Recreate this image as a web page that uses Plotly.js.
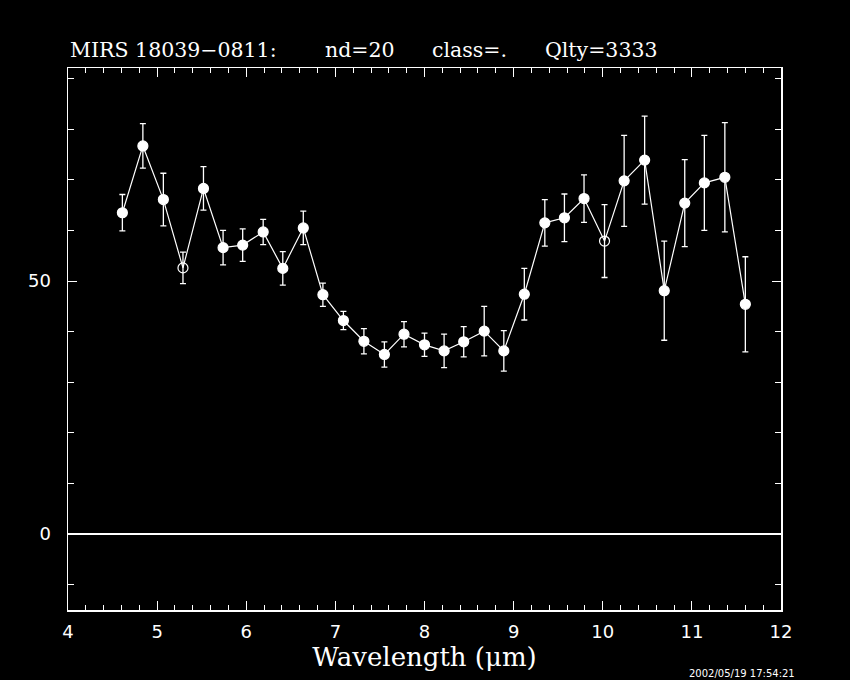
<!DOCTYPE html>
<html>
<head>
<meta charset="utf-8">
<script src="https://cdn.plot.ly/plotly-3.0.1.min.js"></script>
<style>html,body{margin:0;padding:0;background:#000;}#chart{width:850px;height:680px;}</style>
</head>
<body>
<div id="chart"></div>
<script>
const wavelength = [4.61,4.84,5.07,5.29,5.52,5.74,5.96,6.19,6.41,6.64,6.86,7.09,7.32,7.55,7.77,8.00,8.22,8.44,8.67,8.89,9.12,9.35,9.57,9.79,10.02,10.24,10.47,10.69,10.92,11.14,11.37,11.60];
const flux = [63.5,76.7,66.1,52.6,68.3,56.6,57.1,59.7,52.5,60.5,47.3,42.2,38.1,35.5,39.5,37.4,36.2,38.0,40.1,36.2,47.4,61.5,62.5,66.3,57.9,69.8,73.9,48.1,65.4,69.4,70.5,45.4];
const fluxErr = [3.6,4.4,5.2,3.1,4.3,3.4,3.2,2.5,3.3,3.3,2.3,1.8,2.5,2.5,2.5,2.3,3.3,3.0,4.9,4.0,5.1,4.6,4.7,4.7,7.2,9.0,8.7,9.8,8.6,9.4,10.8,9.4];
const openPoint = [false,false,false,true,false,false,false,false,false,false,false,false,false,false,false,false,false,false,false,false,false,false,false,false,true,false,false,false,false,false,false,false];
const titleParts = ["MIRS 18039\u22120811:", "nd=20", "class=.", "Qlty=3333"];
const titlePartX = [0, 0.3576, 0.5077, 0.6662];
const xTitle = "Wavelength (\u03bcm)";
const stamp = "2002/05/19 17:54:21";

const trace = {
  x: wavelength, y: flux, type: 'scatter', mode: 'lines+markers',
  line: {color: '#fff', width: 1.2},
  marker: {
    color: '#fff', size: 10,
    symbol: openPoint.map(o => o ? 'circle-open' : 'circle'),
    line: {color: '#fff', width: 1.2}
  },
  error_y: {type: 'data', array: fluxErr, visible: true, color: '#fff', thickness: 1.3, width: 3},
  hoverinfo: 'skip'
};

const axisCommon = {
  showgrid: false, showline: true, linecolor: '#fff', linewidth: 1.5,
  mirror: 'ticks', ticks: 'inside', tickcolor: '#fff', tickwidth: 1,
  tickfont: {family: 'DejaVu Sans', size: 18, color: '#fff'}
};

const titleFont = {family: 'DejaVu Serif', size: 20.5, color: '#fff'};
const annotations = titleParts.map((t, i) => ({
  text: t, xref: 'paper', yref: 'paper', x: titlePartX[i], y: 1,
  xanchor: 'left', yanchor: 'middle', yshift: 18, showarrow: false, font: titleFont
}));
annotations.push({text: stamp, xref: 'paper', yref: 'paper', x: 1, y: 0, xanchor: 'right', yanchor: 'middle',
  xshift: 16, yshift: -63, showarrow: false, font: {family: 'DejaVu Sans', size: 10, color: '#fff'}});

const layout = {
  width: 850, height: 680,
  paper_bgcolor: '#000', plot_bgcolor: '#000',
  margin: {l: 68, r: 69, t: 68, b: 70},
  showlegend: false,
  xaxis: Object.assign({}, axisCommon, {
    range: [4, 12], tickmode: 'linear', tick0: 4, dtick: 1, ticklen: 9,
    minor: {dtick: 0.2, ticklen: 5, ticks: 'inside', tickcolor: '#fff', tickwidth: 1},
    ticklabelstandoff: 5,
    zeroline: false,
    title: {text: xTitle, font: {family: 'DejaVu Serif', size: 26, color: '#fff'}, standoff: 3}
  }),
  yaxis: Object.assign({}, axisCommon, {
    range: [-15, 92.1], tickmode: 'linear', tick0: 0, dtick: 50, ticklen: 9,
    minor: {dtick: 10, ticklen: 6, ticks: 'inside', tickcolor: '#fff', tickwidth: 1},
    ticklabelstandoff: 12,
    zeroline: true, zerolinecolor: '#fff', zerolinewidth: 2
  }),
  annotations: annotations
};

Plotly.newPlot('chart', [trace], layout, {displayModeBar: false, staticPlot: true});
</script>
</body>
</html>
